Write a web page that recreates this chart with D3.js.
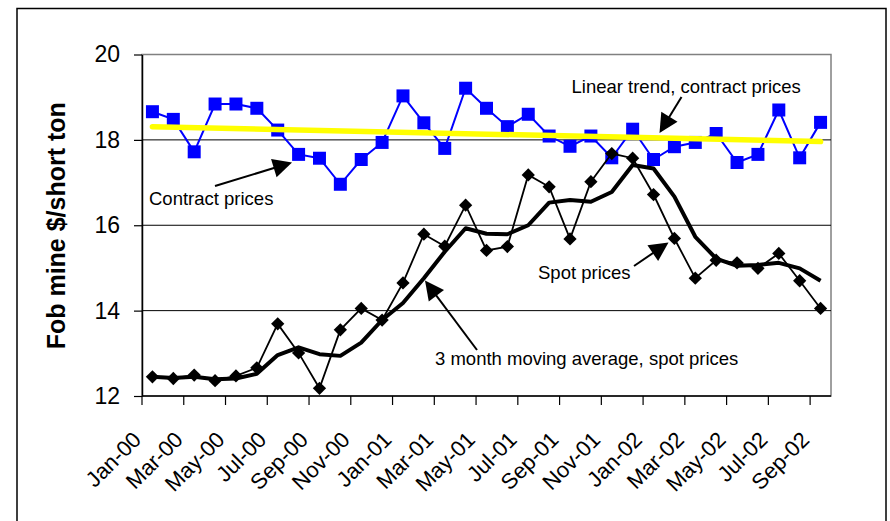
<!DOCTYPE html>
<html>
<head>
<meta charset="utf-8">
<script src="https://cdn.jsdelivr.net/npm/d3@7"></script>
<style>
  body { margin: 0; background: #fff; }
  svg { display: block; }
  text { font-family: "Liberation Sans", Arial, Helvetica, sans-serif; fill: #000; }
</style>
</head>
<body>
<div id="chart"></div>
<script>
'use strict';

/* Data */

var months = [
  'Jan-00', 'Feb-00', 'Mar-00', 'Apr-00', 'May-00', 'Jun-00', 'Jul-00', 'Aug-00', 'Sep-00', 'Oct-00', 'Nov-00', 'Dec-00',
  'Jan-01', 'Feb-01', 'Mar-01', 'Apr-01', 'May-01', 'Jun-01', 'Jul-01', 'Aug-01', 'Sep-01', 'Oct-01', 'Nov-01', 'Dec-01',
  'Jan-02', 'Feb-02', 'Mar-02', 'Apr-02', 'May-02', 'Jun-02', 'Jul-02', 'Aug-02', 'Sep-02'
];

var xTickLabels = [
  'Jan-00', 'Mar-00', 'May-00', 'Jul-00', 'Sep-00', 'Nov-00',
  'Jan-01', 'Mar-01', 'May-01', 'Jul-01', 'Sep-01', 'Nov-01',
  'Jan-02', 'Mar-02', 'May-02', 'Jul-02', 'Sep-02'
];

var contractPrices = [
  18.66, 18.48, 17.72, 18.84, 18.84, 18.74, 18.23, 17.66, 17.57, 16.96, 17.54, 17.94,
  19.03, 18.40, 17.80, 19.21, 18.74, 18.31, 18.60, 18.09, 17.85, 18.09, 17.58, 18.25,
  17.54, 17.84, 17.94, 18.15, 17.47, 17.66, 18.70, 17.58, 18.41
];

var spotPrices = [
  12.45, 12.41, 12.49, 12.36, 12.47, 12.66, 13.69, 13.01, 12.18, 13.55, 14.05, 13.78,
  14.65, 15.79, 15.51, 16.47, 15.41, 15.50, 17.18, 16.90, 15.68, 17.02, 17.68, 17.57,
  16.72, 15.69, 14.76, 15.18, 15.12, 14.99, 15.34, 14.70, 14.05
];

var movingAverage = [
  12.45, 12.42, 12.45, 12.39, 12.41, 12.52, 12.96, 13.14, 12.98, 12.94, 13.25, 13.78,
  14.18, 14.76, 15.38, 15.93, 15.80, 15.79, 16.00, 16.53, 16.59, 16.55, 16.78, 17.41,
  17.33, 16.67, 15.73, 15.22, 15.05, 15.07, 15.12, 14.99, 14.70
];

// linear trend of contract prices, value at first and last month
var trendLine = [18.31, 17.96];

var yTicks = [12, 14, 16, 18, 20];

var annotations = [
  { text: 'Contract prices', tx: 149, ty: 204.5, from: [215, 186], to: [292, 162.5] },
  { text: 'Linear trend, contract prices', tx: 571.5, ty: 93, from: [681.5, 97], to: [659.5, 133] },
  { text: 'Spot prices', tx: 538, ty: 278.5, from: [634, 266], to: [668.5, 242.5] },
  { text: '3 month moving average, spot prices', tx: 435, ty: 365, from: [477, 350], to: [425, 280.5] }
];

/* Layout */

var width = 890, height = 521;
var plot = { left: 142, right: 831, top: 54.5, bottom: 396 };
var font = '"Liberation Sans", Arial, Helvetica, sans-serif';

var svg = d3.select('#chart').append('svg')
  .attr('width', width)
  .attr('height', height);

svg.append('rect')
  .attr('width', width)
  .attr('height', height)
  .attr('fill', '#fff');

// chart border, bottom edge runs off the picture
svg.append('rect')
  .attr('x', 17)
  .attr('y', 8.5)
  .attr('width', 869)
  .attr('height', 540)
  .attr('fill', 'none')
  .attr('stroke', '#000')
  .attr('stroke-width', 1.5);

var x = d3.scaleBand().domain(months).range([plot.left, plot.right]);
var cx = function(m) { return x(m) + x.bandwidth() / 2; };
var y = d3.scaleLinear().domain([12, 20]).range([plot.bottom, plot.top]);

// plot area border (grey) and gridlines
svg.append('rect')
  .attr('x', plot.left)
  .attr('y', plot.top)
  .attr('width', plot.right - plot.left)
  .attr('height', plot.bottom - plot.top)
  .attr('fill', 'none')
  .attr('stroke', '#808080')
  .attr('stroke-width', 1.5);

svg.append('g').selectAll('line')
  .data(yTicks.filter(function(v) { return v > 12 && v < 20; }))
  .enter()
  .append('line')
  .attr('x1', plot.left)
  .attr('x2', plot.right)
  .attr('y1', function(d) { return y(d); })
  .attr('y2', function(d) { return y(d); })
  .attr('stroke', '#000')
  .attr('stroke-width', 1);

// y axis
var yAxis = svg.append('g')
  .attr('transform', 'translate(' + plot.left + ',0)')
  .call(d3.axisLeft(y).tickValues(yTicks).tickSize(8).tickSizeOuter(0).tickPadding(14).tickFormat(d3.format('d')));

yAxis.select('.domain').attr('stroke', '#000').attr('stroke-width', 1.5);
yAxis.selectAll('.tick line').attr('stroke', '#000').attr('stroke-width', 1.2);
yAxis.selectAll('.tick text')
  .attr('font-family', font)
  .attr('font-size', 23)
  .attr('fill', '#000');

svg.append('text')
  .attr('transform', 'translate(64.5,' + ((plot.top + plot.bottom) / 2 + 0.5) + ') rotate(-90)')
  .attr('text-anchor', 'middle')
  .attr('font-size', 25)
  .attr('font-weight', 'bold')
  .text('Fob mine $/short ton');

// x axis: line, tick marks every other month, rotated labels
svg.append('line')
  .attr('x1', plot.left)
  .attr('x2', plot.right)
  .attr('y1', plot.bottom)
  .attr('y2', plot.bottom)
  .attr('stroke', '#000')
  .attr('stroke-width', 1.5);

svg.append('g').selectAll('line')
  .data(months.filter(function(m, i) { return i % 2 === 0; }))
  .enter()
  .append('line')
  .attr('x1', function(d) { return x(d); })
  .attr('x2', function(d) { return x(d); })
  .attr('y1', plot.bottom)
  .attr('y2', plot.bottom + 9)
  .attr('stroke', '#000')
  .attr('stroke-width', 1.2);

svg.append('g').selectAll('text')
  .data(xTickLabels)
  .enter()
  .append('text')
  .attr('transform', function(d) { return 'translate(' + (cx(d) - 10) + ',441) rotate(-45)'; })
  .attr('text-anchor', 'end')
  .attr('font-size', 22)
  .text(function(d) { return d; });

/* Series */

var line = d3.line()
  .x(function(d, i) { return cx(months[i]); })
  .y(function(d) { return y(d); });

// contract prices
svg.append('path')
  .datum(contractPrices)
  .attr('d', line)
  .attr('fill', 'none')
  .attr('stroke', '#0000ff')
  .attr('stroke-width', 2);

svg.append('g').selectAll('path')
  .data(contractPrices)
  .enter()
  .append('path')
  .attr('d', d3.symbol(d3.symbolSquare, 169))
  .attr('transform', function(d, i) { return 'translate(' + cx(months[i]) + ',' + y(d) + ')'; })
  .attr('fill', '#0000ff');

// spot prices
svg.append('path')
  .datum(spotPrices)
  .attr('d', line)
  .attr('fill', 'none')
  .attr('stroke', '#000')
  .attr('stroke-width', 1.8);

svg.append('g').selectAll('path')
  .data(spotPrices)
  .enter()
  .append('path')
  .attr('d', d3.symbol(d3.symbolSquare, 88))
  .attr('transform', function(d, i) { return 'translate(' + cx(months[i]) + ',' + y(d) + ') rotate(45)'; })
  .attr('fill', '#000');

// 3 month moving average
svg.append('path')
  .datum(movingAverage)
  .attr('d', line)
  .attr('fill', 'none')
  .attr('stroke', '#000')
  .attr('stroke-width', 4)
  .attr('stroke-linejoin', 'round');

// linear trend
svg.append('line')
  .attr('x1', cx(months[0]))
  .attr('x2', cx(months[months.length - 1]))
  .attr('y1', y(trendLine[0]))
  .attr('y2', y(trendLine[1]))
  .attr('stroke', '#ffff00')
  .attr('stroke-width', 5.5)
  .attr('stroke-linecap', 'round');

/* Annotations */

function arrowHead(a) {
  var dx = a.to[0] - a.from[0], dy = a.to[1] - a.from[1];
  var len = Math.sqrt(dx * dx + dy * dy);
  var ux = dx / len, uy = dy / len;
  var hl = 19, hw = 9.5;
  var bx = a.to[0] - ux * hl, by = a.to[1] - uy * hl;
  return 'M' + a.to[0] + ',' + a.to[1] +
    'L' + (bx - uy * hw) + ',' + (by + ux * hw) +
    'L' + (bx + uy * hw) + ',' + (by - ux * hw) + 'Z';
}

var notes = svg.append('g').selectAll('g')
  .data(annotations)
  .enter()
  .append('g');

// shaft stops inside the head so the tip stays sharp
notes.append('line')
  .attr('x1', function(d) { return d.from[0]; })
  .attr('y1', function(d) { return d.from[1]; })
  .attr('x2', function(d) { return d.from[0] + (d.to[0] - d.from[0]) * 0.85; })
  .attr('y2', function(d) { return d.from[1] + (d.to[1] - d.from[1]) * 0.85; })
  .attr('stroke', '#000')
  .attr('stroke-width', 2);

notes.append('path')
  .attr('d', arrowHead)
  .attr('fill', '#000');

notes.append('text')
  .attr('x', function(d) { return d.tx; })
  .attr('y', function(d) { return d.ty; })
  .attr('font-size', 18.5)
  .text(function(d) { return d.text; });

</script>
</body>
</html>
